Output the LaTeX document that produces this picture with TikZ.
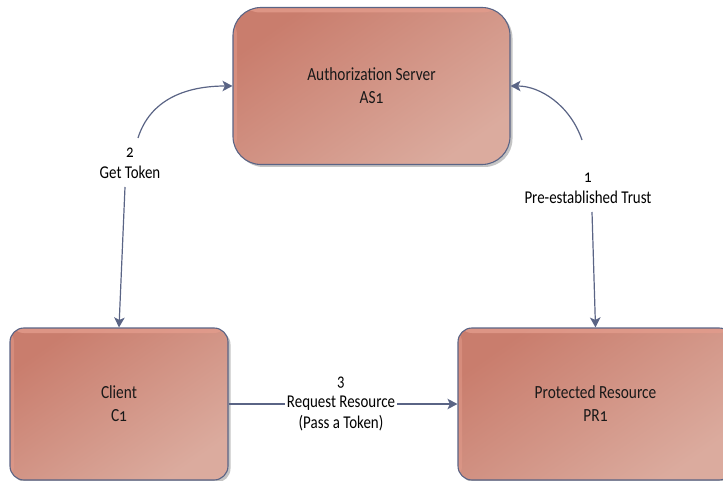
\documentclass[tikz,border=0pt]{standalone}
\usepackage{fontspec}
\setmainfont{Carlito}[FakeStretch=0.83, Numbers=OldStyle]
\usetikzlibrary{arrows.meta,shadows}

\definecolor{edge}{HTML}{5A6485}
\definecolor{boxdark}{HTML}{C97D6D}
\definecolor{boxmid}{HTML}{CD8575}
\definecolor{boxlight}{HTML}{DBAB9E}
\definecolor{boxtop}{HTML}{E39C8C}
\definecolor{shadowgray}{HTML}{C4C4C4}

\tikzset{
  entity/.style={
    draw=edge, line width=1.1pt,
    top color=boxdark, middle color=boxmid, bottom color=boxlight, shading angle=35,
    drop shadow={shadow xshift=2.5pt, shadow yshift=-2.5pt, fill=shadowgray, opacity=1},
    path picture={
      \fill[boxtop, opacity=0.8] (path picture bounding box.north west)
        rectangle ([yshift=-5pt]path picture bounding box.north east);
      \fill[boxtop, opacity=0.5] (path picture bounding box.north west)
        rectangle ([xshift=4pt]path picture bounding box.south west);
    },
    align=center, inner sep=0pt, text=black!90,
    font=\fontsize{18.5}{23}\selectfont
  },
  lbl/.style={align=center, inner sep=2pt, font=\fontsize{18}{21}\selectfont},
  conn/.style={draw=edge, line width=1.2pt},
  tip/.style={-{Stealth[length=10pt,width=10.5pt,inset=2.5pt]}}
}

\begin{document}
\begin{tikzpicture}[x=1pt, y=-1pt]
  \useasboundingbox (0,0) rectangle (723,481);
  \clip (0,0) rectangle (723,481);

  % the three parties
  \node[entity, minimum width=277pt, minimum height=157pt, rounded corners=28pt]
    (as) at (371.5,86) {Authorization Server\\AS1};
  \node[entity, minimum width=218pt, minimum height=152pt, rounded corners=14pt]
    (cl) at (119,404) {Client\\C1};
  \node[entity, minimum width=275pt, minimum height=152pt, rounded corners=14pt]
    (pr) at (595.5,404) {Protected Resource\\PR1};

  % step labels
  \node[lbl] (l2) at (130,163) {2\\Get Token};
  \node[lbl] (l1) at (588,188) {1\\Pre-established Trust};

  % ends of the broken connectors around the labels
  \coordinate (g2lo) at (125,187);
  \coordinate (g2hi) at (138,138);
  \coordinate (t1lo) at (592,212);
  \coordinate (t1hi) at (582,140);

  % step 2: client <-> authorization server
  \draw[conn, tip] (g2lo) -- (cl.north);
  \draw[conn, tip] (g2hi) .. controls (150,100) and (185,86) .. (as.west);

  % step 1: protected resource <-> authorization server
  \draw[conn, tip] (t1lo) -- (pr.north);
  \draw[conn, tip] (t1hi) .. controls (570,105) and (540,86) .. (as.east);

  % step 3: client -> protected resource
  \draw[conn, tip] (cl.east) -- (pr.west);
  \node[lbl, fill=white] (l3) at (341,404) {3\\Request Resource\\(Pass a Token)};
\end{tikzpicture}
\end{document}
